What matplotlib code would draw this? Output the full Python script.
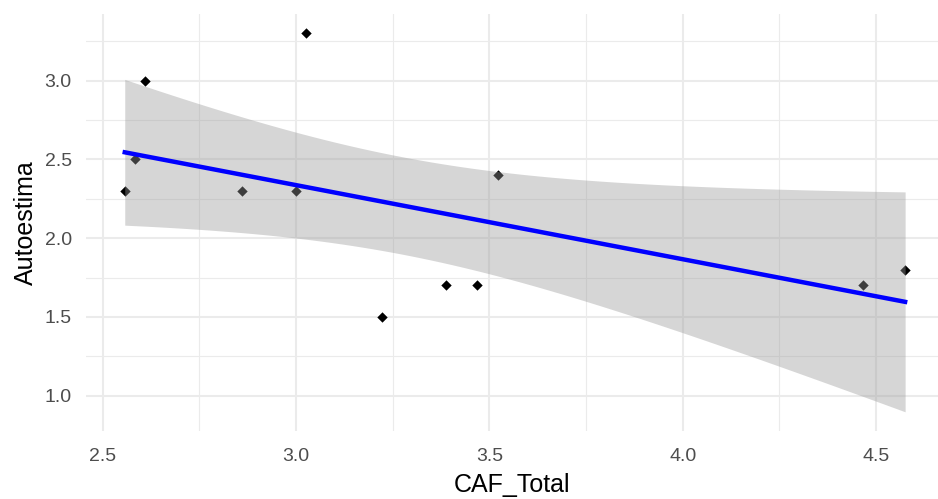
import numpy as np
import matplotlib as mpl
mpl.use("Agg")
import matplotlib.pyplot as plt
from matplotlib.ticker import MultipleLocator

# data
caf_total = [2.557, 2.584, 2.610, 2.861, 3.000, 3.025, 3.221, 3.387, 3.469, 3.522, 4.465, 4.575]
autoestima = [2.3, 2.5, 3.0, 2.3, 2.3, 3.3, 1.5, 1.7, 1.7, 2.4, 1.7, 1.8]

x_ticks = [2.5, 3.0, 3.5, 4.0, 4.5]
y_ticks = [1.0, 1.5, 2.0, 2.5, 3.0]

mpl.rcParams['font.family'] = ['Liberation Sans', 'DejaVu Sans']

x = np.array(caf_total)
y = np.array(autoestima)
n = len(x)

# lm fit + 95% confidence band, like geom_smooth(method = "lm")
slope, intercept = np.polyfit(x, y, 1)
resid = y - (intercept + slope * x)
s = np.sqrt(np.sum(resid ** 2) / (n - 2))
sxx = np.sum((x - x.mean()) ** 2)
t_crit = 2.228  # t(0.975, df=10)
xs = np.linspace(x.min(), x.max(), 80)
ys = intercept + slope * xs
half = t_crit * s * np.sqrt(1 / n + (xs - x.mean()) ** 2 / sxx)

fig = plt.figure(figsize=(9.38, 4.99), dpi=100)
ax = fig.add_axes([85.7 / 938, 68 / 499, 1 - 85.7 / 938, 417 / 499])

ax.scatter(x, y, s=28, marker='D', color='black', zorder=2, linewidths=0)
ax.fill_between(xs, ys - half, ys + half, color='#999999', alpha=0.4, linewidth=0, zorder=3)
ax.plot(xs, ys, color='#0000FF', linewidth=3.2, zorder=4)

ax.set_xlim(2.456, 4.66)
ax.set_ylim(0.776, 3.423)
ax.set_xticks(x_ticks)
ax.set_yticks(y_ticks)
ax.set_xticklabels([f"{v:.1f}" for v in x_ticks])
ax.set_yticklabels([f"{v:.1f}" for v in y_ticks])
ax.xaxis.set_minor_locator(MultipleLocator(0.5, offset=0.25))
ax.yaxis.set_minor_locator(MultipleLocator(0.5, offset=0.25))

ax.grid(True, which='major', color='#EBEBEB', linewidth=1.5, zorder=0)
ax.grid(True, which='minor', color='#EBEBEB', linewidth=0.8, zorder=0)
ax.set_axisbelow(True)
for sp in ax.spines.values():
    sp.set_visible(False)

ax.tick_params(which='both', length=0, labelsize=14, labelcolor='#4D4D4D')
ax.tick_params(axis='x', pad=12)
ax.tick_params(axis='y', pad=10)

ax.set_xlabel('CAF_Total', fontsize=18, labelpad=6)
ax.set_ylabel('Autoestima', fontsize=18, labelpad=5)

fig.savefig('out.png', dpi=100)
